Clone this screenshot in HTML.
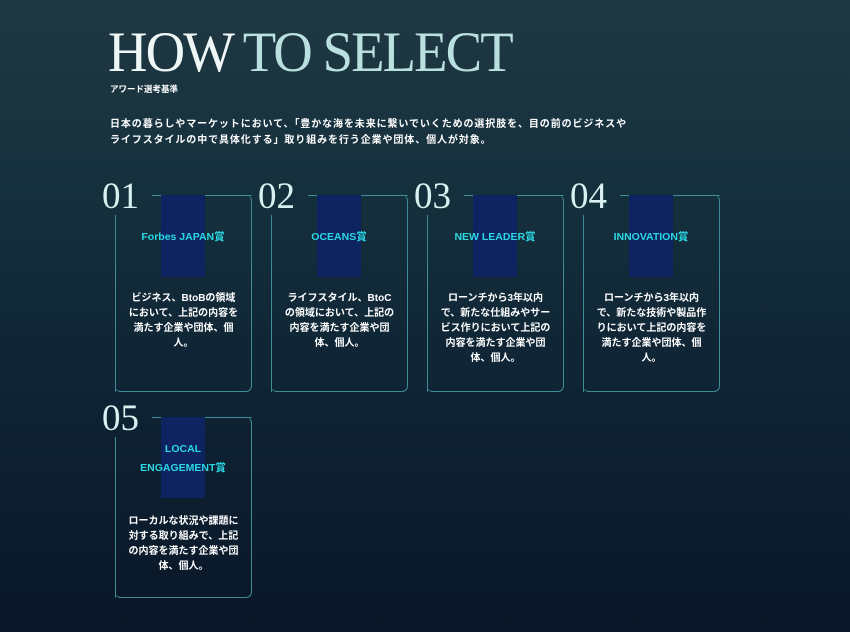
<!DOCTYPE html>
<html><head><meta charset="utf-8"><style>
*{margin:0;padding:0;box-sizing:border-box}
body{width:850px;height:632px;overflow:hidden;background:linear-gradient(180deg,#1f3843 0%,#15303d 30%,#0e2233 65%,#091728 100%);font-family:"Liberation Sans","Noto Sans CJK JP",sans-serif;position:relative;color:#fff}
.title{position:absolute;left:108px;top:20px;font-family:"Liberation Serif",serif;font-size:57px;letter-spacing:-2px;color:#eef7f6;white-space:nowrap;transform:scaleX(0.96);transform-origin:left}
.title span{color:#b9dfdf}
.sub{position:absolute;left:110px;top:83px;font-size:8.5px;font-weight:bold}
.lead{position:absolute;left:110px;top:117px;font-size:10px;font-weight:bold;line-height:16px;width:525px;letter-spacing:0.9px}
.card{position:absolute;width:137px;border:1px solid #3e8c96;border-top:none;border-left:none;border-radius:0 6px 6px 6px}
.card .t{position:absolute;left:37px;right:-1px;top:0;border-top:1px solid #3e8c96;border-top-right-radius:6px}
.card .l{position:absolute;left:0;top:20px;bottom:-1px;border-left:1px solid #3e8c96;border-bottom-left-radius:6px}
.card .bar{position:absolute;left:46px;top:0;width:44px;background:#0d2460}
.card .num{position:absolute;left:-13px;top:-17px;font-family:"Liberation Serif",serif;font-size:37px;color:#d9f0f0;line-height:1}
.card .lab{position:absolute;left:0;width:100%;text-align:center;color:#2bd8e4;font-size:10.5px;line-height:19px;font-weight:bold}
.card .txt{position:absolute;left:12px;width:113px;text-align:center;font-size:10px;font-weight:bold;line-height:15px}
</style></head><body>
<div class="title">HOW <span>TO SELECT</span></div>
<div class="sub">アワード選考基準</div>
<div class="lead">日本の暮らしやマーケットにおいて、「豊かな海を未来に繋いでいくための選択肢を、目の前のビジネスやライフスタイルの中で具体化する」取り組みを行う企業や団体、個人が対象。</div>

<div class="card" style="left:115px;top:195px;height:197px"><div class="t"></div><div class="l"></div><div class="bar" style="height:82px"></div><div class="num">01</div><div class="lab" style="top:33px">Forbes JAPAN賞</div><div class="txt" style="top:96px">ビジネス、BtoBの領域において、上記の内容を満たす企業や団体、個人。</div></div>
<div class="card" style="left:271px;top:195px;height:197px"><div class="t"></div><div class="l"></div><div class="bar" style="height:82px"></div><div class="num">02</div><div class="lab" style="top:33px">OCEANS賞</div><div class="txt" style="top:96px">ライフスタイル、BtoCの領域において、上記の内容を満たす企業や団体、個人。</div></div>
<div class="card" style="left:427px;top:195px;height:197px"><div class="t"></div><div class="l"></div><div class="bar" style="height:82px"></div><div class="num">03</div><div class="lab" style="top:33px">NEW LEADER賞</div><div class="txt" style="top:96px">ローンチから3年以内で、新たな仕組みやサービス作りにおいて上記の内容を満たす企業や団体、個人。</div></div>
<div class="card" style="left:583px;top:195px;height:197px"><div class="t"></div><div class="l"></div><div class="bar" style="height:82px"></div><div class="num">04</div><div class="lab" style="top:33px">INNOVATION賞</div><div class="txt" style="top:96px">ローンチから3年以内で、新たな技術や製品作りにおいて上記の内容を満たす企業や団体、個人。</div></div>
<div class="card" style="left:115px;top:417px;height:181px"><div class="t"></div><div class="l"></div><div class="bar" style="height:81px"></div><div class="num">05</div><div class="lab" style="top:23px">LOCAL<br>ENGAGEMENT賞</div><div class="txt" style="top:97px">ローカルな状況や課題に対する取り組みで、上記の内容を満たす企業や団体、個人。</div></div>
</body></html>
